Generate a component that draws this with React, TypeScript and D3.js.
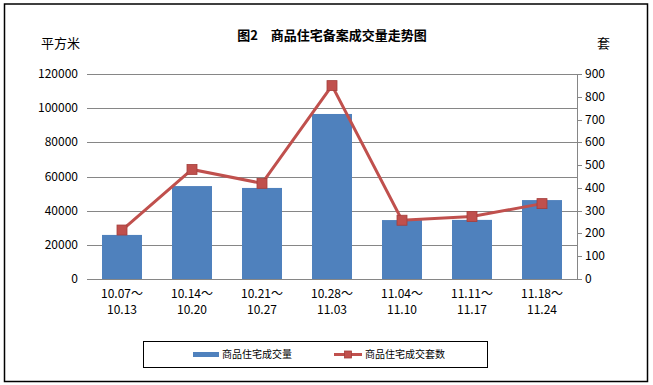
import React, { useEffect, useRef } from 'react';
import * as d3 from 'd3';

// weekly periods
const periodsFrom = ['10.07～', '10.14～', '10.21～', '10.28～', '11.04～', '11.11～', '11.18～'];
const periodsTo = ['10.13', '10.20', '10.27', '11.03', '11.10', '11.17', '11.24'];
// area sold (平方米)
const areaValues = [25800, 54400, 53300, 96600, 34500, 34600, 46200];
// units sold (套)
const unitValues = [215, 481, 420, 849, 258, 274, 331];

const leftTicks = [0, 20000, 40000, 60000, 80000, 100000, 120000];
const rightTicks = [0, 100, 200, 300, 400, 500, 600, 700, 800, 900];

const FONT = 'SimSun, "Noto Sans CJK SC", sans-serif';

const App = () => {
  const ref = useRef<SVGSVGElement>(null);

  useEffect(() => {
    const svg = d3.select(ref.current);
    svg.selectAll('*').remove();

    const W = 653;
    const H = 385;
    const margin = { top: 74, left: 87, right: 76, bottom: 106 };
    const width = W - margin.left - margin.right; // 490
    const height = H - margin.top - margin.bottom; // 205

    // outer frame
    svg.append('rect')
      .attr('x', 4.5).attr('y', 4)
      .attr('width', 643).attr('height', 377.5)
      .attr('fill', '#fff')
      .attr('stroke', '#000')
      .attr('stroke-width', 1.5);

    svg.append('text')
      .attr('x', 332).attr('y', 40)
      .attr('text-anchor', 'middle')
      .style('font-family', FONT)
      .style('font-size', '13px')
      .style('font-weight', 'bold')
      .text('图2　商品住宅备案成交量走势图');

    svg.append('text')
      .attr('x', 41).attr('y', 48)
      .style('font-family', FONT)
      .style('font-size', '13px')
      .text('平方米');

    svg.append('text')
      .attr('x', 597).attr('y', 48)
      .style('font-family', FONT)
      .style('font-size', '13px')
      .text('套');

    const g = svg.append('g').attr('transform', `translate(${margin.left},${margin.top})`);

    const x = d3.scaleBand<number>()
      .domain(d3.range(areaValues.length))
      .range([0, width])
      .paddingInner(30 / 70)
      .paddingOuter(15 / 70);
    const xc = d3.scaleBand<number>().domain(d3.range(areaValues.length)).range([0, width]);

    const yL = d3.scaleLinear().domain([0, 120000]).range([height, 0]);
    const yR = d3.scaleLinear().domain([0, 900]).range([height, 0]);

    // gridlines
    g.selectAll('.grid')
      .data(leftTicks)
      .enter()
      .append('line')
      .attr('x1', 0).attr('x2', width)
      .attr('y1', (d) => Math.round(yL(d)) + 0.5)
      .attr('y2', (d) => Math.round(yL(d)) + 0.5)
      .attr('stroke', '#868686')
      .attr('stroke-width', 1);

    // left labels
    g.selectAll('.ly')
      .data(leftTicks)
      .enter()
      .append('text')
      .attr('x', -9)
      .attr('y', (d) => yL(d) + 4)
      .attr('text-anchor', 'end')
      .style('font-family', FONT)
      .style('font-size', '12px')
      .text((d) => d);

    // right axis
    g.append('line')
      .attr('x1', width + 0.5).attr('x2', width + 0.5)
      .attr('y1', 0).attr('y2', height)
      .attr('stroke', '#868686');
    g.selectAll('.rt')
      .data(rightTicks)
      .enter()
      .append('line')
      .attr('x1', width).attr('x2', width + 5)
      .attr('y1', (d) => Math.round(yR(d)) + 0.5)
      .attr('y2', (d) => Math.round(yR(d)) + 0.5)
      .attr('stroke', '#868686');
    g.selectAll('.ry')
      .data(rightTicks)
      .enter()
      .append('text')
      .attr('x', width + 8)
      .attr('y', (d) => yR(d) + 4)
      .style('font-family', FONT)
      .style('font-size', '12px')
      .text((d) => d);

    // bars
    g.selectAll('.bar')
      .data(areaValues)
      .enter()
      .append('rect')
      .attr('x', (d, i) => x(i)!)
      .attr('width', x.bandwidth())
      .attr('y', (d) => yL(d))
      .attr('height', (d) => height - yL(d))
      .attr('fill', '#4F81BD');

    // x labels
    periodsFrom.forEach((p, i) => {
      const cx = xc(i)! + xc.bandwidth() / 2;
      g.append('text')
        .attr('x', cx).attr('y', height + 19)
        .attr('text-anchor', 'middle')
        .style('font-family', FONT)
        .style('font-size', '12px')
        .text(p);
      g.append('text')
        .attr('x', cx).attr('y', height + 35)
        .attr('text-anchor', 'middle')
        .style('font-family', FONT)
        .style('font-size', '12px')
        .text(periodsTo[i]);
    });

    // line
    const line = d3.line<number>()
      .x((d, i) => xc(i)! + xc.bandwidth() / 2)
      .y((d) => yR(d));
    g.append('path')
      .datum(unitValues)
      .attr('d', line)
      .attr('fill', 'none')
      .attr('stroke', '#C0504D')
      .attr('stroke-width', 3);

    g.selectAll('.mk')
      .data(unitValues)
      .enter()
      .append('rect')
      .attr('x', (d, i) => xc(i)! + xc.bandwidth() / 2 - 5)
      .attr('y', (d) => yR(d) - 5)
      .attr('width', 10)
      .attr('height', 10)
      .attr('fill', '#C0504D')
      .attr('stroke', '#A43E3B')
      .attr('stroke-width', 0.8);

    // legend
    const lg = svg.append('g');
    lg.append('rect')
      .attr('x', 143.5).attr('y', 341.5)
      .attr('width', 344).attr('height', 26)
      .attr('fill', '#fff')
      .attr('stroke', '#000')
      .attr('stroke-width', 1);
    lg.append('rect')
      .attr('x', 193).attr('y', 352)
      .attr('width', 26).attr('height', 5)
      .attr('fill', '#4F81BD');
    lg.append('text')
      .attr('x', 222).attr('y', 358)
      .style('font-family', FONT)
      .style('font-size', '10px')
      .text('商品住宅成交量');
    lg.append('line')
      .attr('x1', 334).attr('x2', 362)
      .attr('y1', 354.5).attr('y2', 354.5)
      .attr('stroke', '#C0504D')
      .attr('stroke-width', 3);
    lg.append('rect')
      .attr('x', 344.5).attr('y', 351)
      .attr('width', 7).attr('height', 7)
      .attr('fill', '#C0504D')
      .attr('stroke', '#A43E3B')
      .attr('stroke-width', 0.8);
    lg.append('text')
      .attr('x', 365).attr('y', 358)
      .style('font-family', FONT)
      .style('font-size', '10px')
      .text('商品住宅成交套数');
  }, []);

  return (
    <svg
      ref={ref}
      width={653}
      height={385}
      style={{ position: 'absolute', left: 0, top: 0, display: 'block' }}
    />
  );
};

export default App;
